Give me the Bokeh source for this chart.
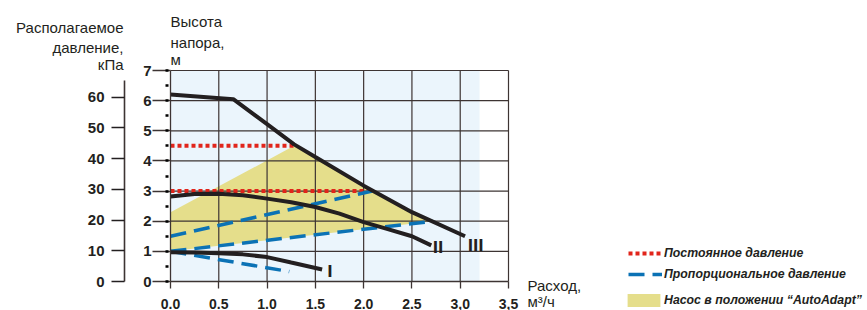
from bokeh.plotting import figure
from bokeh.models import (Range1d, LinearAxis, SingleIntervalTicker, FixedTicker,
                          Label, Legend, LegendItem, PrintfTickFormatter)
from bokeh.core.properties import value
from bokeh.embed import file_html
from bokeh.resources import INLINE

# ---------------- data ----------------
curve1_x = [0.0, 0.25, 0.5, 0.75, 1.0, 1.25, 1.57]
curve1_y = [0.97, 0.96, 0.94, 0.90, 0.81, 0.63, 0.40]
curve2_x = [0.0, 0.25, 0.5, 0.75, 1.0, 1.25, 1.5, 1.75, 2.0, 2.25, 2.5, 2.7]
curve2_y = [2.82, 2.90, 2.91, 2.86, 2.75, 2.63, 2.47, 2.25, 1.97, 1.74, 1.50, 1.20]
curve3_x = [0.0, 0.65, 1.0, 1.28, 1.5, 2.0, 2.5, 3.05]
curve3_y = [6.20, 6.05, 5.22, 4.55, 4.13, 3.18, 2.30, 1.50]

const_x0 = [0.0, 0.0]
const_x1 = [1.28, 2.07]
const_head = [4.5, 3.0]

prop_x0 = [0.0, 0.0, 0.0]
prop_y0 = [1.5, 1.0, 1.0]
prop_x1 = [2.09, 2.72, 1.23]
prop_y1 = [3.0, 2.0, 0.33]

auto_x = [0.0, 0.0, 1.28, 1.5, 2.0, 2.5, 2.72]
auto_y = [1.0, 2.3, 4.5, 4.13, 3.18, 2.30, 2.0]

roman_text = ["I", "II", "III"]
roman_x = [1.65, 2.77, 3.16]
roman_y = [0.33, 1.13, 1.20]

flow_ticks = [0.0, 0.5, 1.0, 1.5, 2.0, 2.5, 3.0, 3.5]
head_ticks = [0, 1, 2, 3, 4, 5, 6, 7]
kpa_ticks = [0, 10, 20, 30, 40, 50, 60]
flow_max = 3.5
head_max = 7
shade_max = 3.2
m_to_kpa = 9.80665

FONT = "Liberation Sans"
INK = "#231F20"
GRID = "#3d3433"
RED = "#E1251B"
BLUE = "#0B72B5"
YELLOW = "#E5DE8B"
BG = "#EBF5FC"

W, H = 867, 310
# pixel layout of the plot area
PX_X0, PX_X1 = 170, 508
PX_Y0, PX_Y1 = 281, 70
SX = (PX_X1 - PX_X0) / flow_max
SY = (PX_Y0 - PX_Y1) / head_max


def dx(px):
    return (px - PX_X0) / SX


def dy(py):
    return (PX_Y0 - py) / SY


p = figure(width=W, height=H, output_backend="svg", toolbar_location=None,
           x_range=Range1d(dx(0), dx(W)), y_range=Range1d(dy(H), dy(0)),
           x_axis_location=None, y_axis_location=None,
           min_border=0, min_border_left=0, min_border_right=0,
           min_border_top=0, min_border_bottom=0,
           background_fill_color="white", border_fill_color="white",
           outline_line_color=None)
p.xgrid.visible = False
p.ygrid.visible = False
p.extra_y_ranges = {"kpa": Range1d(dy(H) * m_to_kpa, dy(0) * m_to_kpa)}

# backgrounds
p.quad(left=[0], right=[shade_max], bottom=[0], top=[head_max], fill_color=BG,
       line_color=None)
p.patch(auto_x, auto_y, fill_color=YELLOW, line_color=None)

# grid lines
p.segment(x0=flow_ticks[1:], y0=[0] * (len(flow_ticks) - 1), x1=flow_ticks[1:],
          y1=[head_max] * (len(flow_ticks) - 1), line_color=GRID, line_width=1.2)
p.segment(x0=[0] * (len(head_ticks) - 1), y0=head_ticks[1:],
          x1=[flow_max] * (len(head_ticks) - 1), y1=head_ticks[1:],
          line_color=GRID, line_width=1.2)

# lines
r_const = p.segment(x0=const_x0, y0=const_head, x1=const_x1, y1=const_head,
                    line_color=RED, line_width=4, line_dash="4 3", line_cap="butt")
r_prop = p.segment(x0=prop_x0, y0=prop_y0, x1=prop_x1, y1=prop_y1,
                   line_color=BLUE, line_width=3.5, line_dash="16 8")
for cx, cy in ((curve1_x, curve1_y), (curve2_x, curve2_y), (curve3_x, curve3_y)):
    p.line(cx, cy, line_color=INK, line_width=4)

p.text(x=roman_x, y=roman_y, text=roman_text,
       text_font=value("Liberation Sans Narrow, DejaVu Sans Condensed"),
       text_font_style="bold", text_font_size="16px", text_align="center",
       text_baseline="alphabetic", text_color=INK)

# x axis
xa = LinearAxis(fixed_location=0, bounds=(0, flow_max),
                ticker=FixedTicker(ticks=flow_ticks, minor_ticks=[]),
                formatter=PrintfTickFormatter(format="%.1f"))
xa.major_label_overrides = {3: "3,0", 3.5: "3,5"}
xa.major_tick_in = 0
xa.major_tick_out = 7
xa.major_label_standoff = 10
xa.major_label_text_font_size = "14px"

# m axis
ya = LinearAxis(fixed_location=0, bounds=(0, head_max),
                ticker=SingleIntervalTicker(interval=1, num_minor_ticks=2))
ya.major_tick_in = 0
ya.major_tick_out = 18
ya.minor_tick_in = -2
ya.minor_tick_out = 5
ya.minor_tick_line_width = 2.5
ya.minor_tick_line_color = "black"
ya.major_label_standoff = 1
ya.major_label_text_font_size = "15px"

# kPa axis
ka = LinearAxis(y_range_name="kpa", fixed_location=dx(124), bounds=(0, 65.5),
                ticker=FixedTicker(ticks=kpa_ticks, minor_ticks=[]))
ka.major_tick_in = 0
ka.major_tick_out = 13
ka.minor_tick_out = 0
ka.minor_tick_in = 0
ka.major_label_standoff = 7
ka.major_label_text_font_size = "15px"

for ax in (xa, ya, ka):
    ax.axis_line_color = GRID
    ax.axis_line_width = 1.3
    ax.major_tick_line_color = GRID
    ax.major_tick_line_width = 1.3
    ax.major_label_text_font = FONT
    ax.major_label_text_font_style = "bold"
    ax.major_label_text_color = INK
ka.axis_line_width = 1.6
ka.major_tick_line_width = 1.6
ka.major_tick_line_color = INK

p.add_layout(xa, "below")
p.add_layout(ya, "left")
p.add_layout(ka, "left")

# titles (baseline positions in pixels)
titles = [
    ("Располагаемое", 123, 27, "right"),
    ("давление,", 123, 47, "right"),
    ("кПа", 123, 64, "right"),
    ("Высота", 170, 21, "left"),
    ("напора,", 170, 41.5, "left"),
    ("м", 170, 59, "left"),
    ("Расход,", 527, 285, "left"),
    ("м³/ч", 527, 301, "left"),
]
for t, x, y, al in titles:
    p.add_layout(Label(x=dx(x), y=dy(y), text=t, text_align=al,
                       text_baseline="alphabetic", text_font=FONT,
                       text_font_size="15px", text_color=INK))


# legends
def style_legend(lg):
    lg.border_line_color = None
    lg.background_fill_alpha = 0
    lg.padding = 0
    lg.margin = 0
    lg.label_text_font = FONT
    lg.label_text_font_style = "bold italic"
    lg.label_text_font_size = "12.3px"
    lg.label_text_color = INK


lg1 = Legend(items=[LegendItem(label="Постоянное давление", renderers=[r_const]),
                    LegendItem(label="Пропорциональное давление", renderers=[r_prop])],
             location=(628, H - 281), glyph_width=34, glyph_height=14, label_height=14,
             label_standoff=2, spacing=7)
style_legend(lg1)
r_auto_leg = p.patch([0, 0, 0], [0, 0, 0], fill_color=YELLOW, line_color=None)
lg2 = Legend(items=[LegendItem(label="Насос в положении “AutoAdapt”",
                               renderers=[r_auto_leg])],
             location=(623, H - 308), glyph_width=41, glyph_height=16, label_height=16,
             label_standoff=0)
style_legend(lg2)
p.add_layout(lg1)
p.add_layout(lg2)

open("out.html", "w").write(file_html(p, INLINE))
